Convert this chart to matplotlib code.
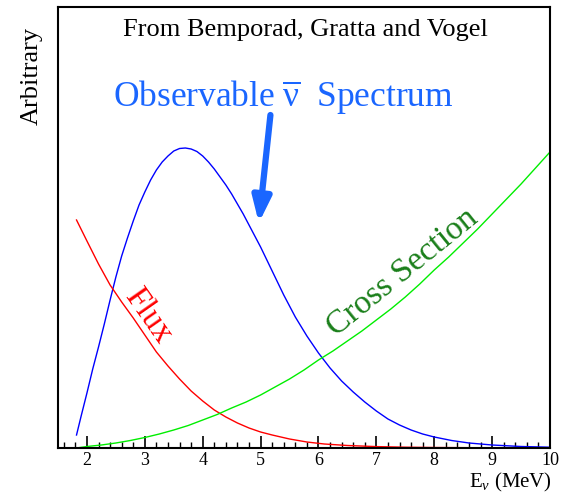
import matplotlib
matplotlib.use('Agg')
import matplotlib.pyplot as plt
from matplotlib.ticker import MultipleLocator

plt.rcParams['font.family'] = ['Liberation Serif', 'DejaVu Serif']
plt.rcParams['mathtext.fontset'] = 'custom'
plt.rcParams['mathtext.rm'] = 'Liberation Serif'
plt.rcParams['mathtext.it'] = 'Liberation Serif:italic'

# energies (MeV) and curve heights (arbitrary units)
e_spec = [1.82, 1.9, 2.0, 2.1, 2.2, 2.3, 2.4, 2.5, 2.6, 2.7, 2.8, 2.9, 3.0,
          3.1, 3.2, 3.3, 3.4, 3.5, 3.6, 3.7, 3.8, 3.9, 4.0, 4.1, 4.2, 4.3,
          4.4, 4.5, 4.6, 4.7, 4.8, 4.9, 5.0, 5.2, 5.4, 5.6, 5.8, 6.0, 6.2,
          6.4, 6.6, 6.8, 7.0, 7.2, 7.4, 7.6, 7.8, 8.0, 8.3, 8.6, 9.0, 9.5, 10.0]
spectrum = [13, 32, 55, 79, 101, 124, 148, 171, 192, 210, 227, 243, 256,
            268, 278, 286, 292, 297, 299.5, 300, 299, 296.5, 292, 286, 279, 271,
            263, 254, 244, 234, 223, 212, 201, 177, 153, 131, 112, 95, 80,
            67, 56, 46, 37, 29, 23, 18, 14, 11, 7.5, 5, 3, 1.5, 0.8]

e_flux = [1.82, 2.0, 2.2, 2.4, 2.6, 2.8, 3.0, 3.2, 3.4, 3.6, 3.8, 4.0, 4.2,
          4.4, 4.6, 4.8, 5.0, 5.2, 5.5, 5.8, 6.1, 6.5, 7.0, 7.5, 8.0, 9.0, 10.0]
flux = [228, 207, 184, 163, 146, 130, 113, 96, 82, 69, 57, 47, 38,
        31, 25, 20, 16, 13, 9, 6, 4, 2.5, 1.4, 0.8, 0.5, 0.2, 0.1]

e_xsec = [1.82, 2.0, 2.25, 2.5, 2.75, 3.0, 3.25, 3.5, 3.75, 4.0, 4.25, 4.5,
          4.75, 5.0, 5.25, 5.5, 5.75, 6.0, 6.25, 6.5, 6.75, 7.0, 7.25, 7.5,
          7.75, 8.0, 8.25, 8.5, 8.75, 9.0, 9.25, 9.5, 9.75, 10.0]
xsec = [0, 1.5, 3, 5, 7.5, 10.5, 14, 18, 22.5, 28, 33.5, 40,
        46, 53, 61, 69, 78, 88, 97, 107, 117, 128, 139, 151,
        164, 178, 191, 205, 219, 234, 249, 264, 280, 296]

x_ticks = [2, 3, 4, 5, 6, 7, 8, 9, 10]

fig = plt.figure(figsize=(5.61, 4.92), dpi=100)
ax = fig.add_axes([58 / 561, 44 / 492, 492 / 561, 441 / 492])

ax.plot(e_spec, spectrum, color='#0000ff', lw=1.0)
ax.plot(e_flux, flux, color='#ff0000', lw=1.0)
ax.plot(e_xsec, xsec, color='#00ee00', lw=1.0)

ax.set_xlim(1.5, 10.0)
ax.set_ylim(0, 441)
ax.set_xticks(x_ticks)
ax.set_xticklabels([str(t) for t in x_ticks])
ax.xaxis.set_minor_locator(MultipleLocator(0.2))
ax.tick_params(axis='x', which='major', direction='in', length=9, width=1.2,
               labelsize=13, pad=3, top=False)
ax.tick_params(axis='x', which='minor', direction='in', length=4.5, width=1.0,
               top=False)
ax.set_yticks([])
for sp in ax.spines.values():
    sp.set_linewidth(1.5)

# labels
fig.text(305 / 561, 1 - 30 / 492, 'From Bemporad, Gratta and Vogel',
         ha='center', va='center', fontsize=19)
fig.text(32 / 561, 1 - 76 / 492, 'Arbitrary', rotation=90,
         ha='center', va='center', fontsize=19)
fig.text(552 / 561, 1 - 482 / 492, r'E$_{\nu}$ (MeV)',
         ha='right', va='center', fontsize=15)

ax.text(5.40, 351, r'Observable $\overline{\mathrm{\nu}}$  Spectrum', color='#1a66ff',
        ha='center', va='center', fontsize=25.5)
ax.text(3.05, 132, 'Flux', color='#ff0000', rotation=-55,
        ha='center', va='center', fontsize=23.5)
ax.text(7.45, 175, 'Cross Section', color='#1a7f1a', rotation=39,
        ha='center', va='center', fontsize=24)

ax.annotate('', xy=(4.97, 225), xytext=(5.17, 333),
            arrowprops=dict(arrowstyle='-|>,head_length=1.5,head_width=0.55',
                            color='#1a66ff', lw=4.5, shrinkA=0, shrinkB=0))

fig.savefig('out.png', dpi=100)
